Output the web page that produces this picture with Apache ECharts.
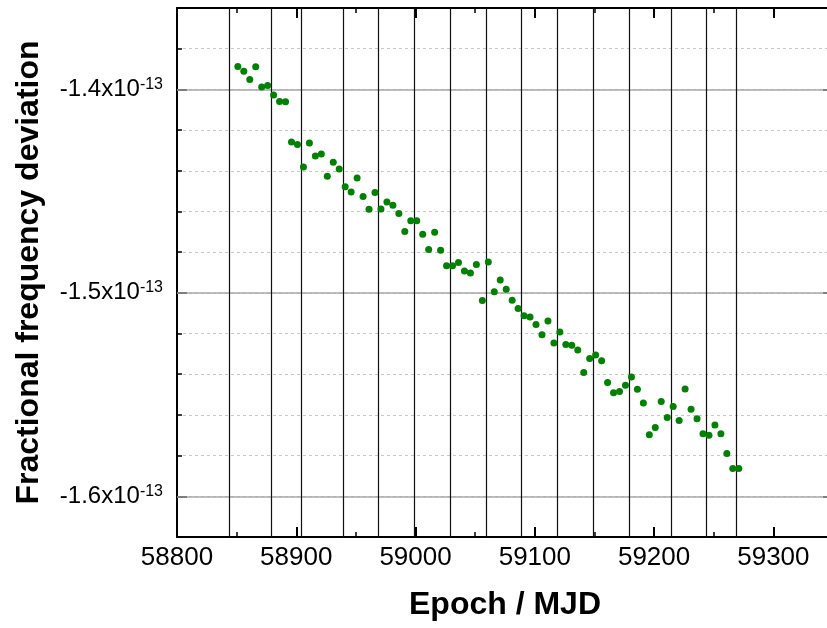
<!DOCTYPE html>
<html>
<head>
<meta charset="utf-8">
<script src="https://cdn.jsdelivr.net/npm/echarts@6/dist/echarts.min.js"></script>
<style>
  html, body { margin: 0; padding: 0; background: #fff; }
  #chart { width: 827px; height: 628px; }
</style>
</head>
<body>
<div id="chart"></div>
<script>
// Epochs (MJD) of the 5-day comparison points
const epochs = [
  58851, 58856, 58861, 58866, 58871, 58876, 58881, 58886, 58891, 58896,
  58901, 58906, 58911, 58916, 58921, 58926, 58931, 58936, 58941, 58946,
  58951, 58956, 58961, 58966, 58971, 58976, 58981, 58986, 58991, 58996,
  59001, 59006, 59011, 59016, 59021, 59026, 59031, 59036, 59041, 59046,
  59051, 59056, 59061, 59066, 59071, 59076, 59081, 59086, 59091, 59096,
  59101, 59106, 59111, 59116, 59121, 59126, 59131, 59136, 59141, 59146,
  59151, 59156, 59161, 59166, 59171, 59176, 59181, 59186, 59191, 59196,
  59201, 59206, 59211, 59216, 59221, 59226, 59231, 59236, 59241, 59246,
  59251, 59256, 59261, 59266, 59271
];

// Fractional frequency deviation, in units of 1e-13
const deviation = [
  -1.3888, -1.3911, -1.3952, -1.3889, -1.3988, -1.3981, -1.4027, -1.4060, -1.4061, -1.4258,
  -1.4271, -1.4381, -1.4263, -1.4327, -1.4317, -1.4427, -1.4358, -1.4391, -1.4478, -1.4504,
  -1.4435, -1.4527, -1.4589, -1.4507, -1.4588, -1.4553, -1.4570, -1.4610, -1.4699, -1.4646,
  -1.4646, -1.4712, -1.4787, -1.4702, -1.4791, -1.4867, -1.4867, -1.4851, -1.4893, -1.4902,
  -1.4861, -1.5038, -1.4848, -1.4995, -1.4937, -1.4982, -1.5036, -1.5077, -1.5113, -1.5119,
  -1.5156, -1.5206, -1.5138, -1.5246, -1.5192, -1.5254, -1.5257, -1.5281, -1.5392, -1.5323,
  -1.5305, -1.5334, -1.5441, -1.5491, -1.5485, -1.5454, -1.5413, -1.5474, -1.5541, -1.5698,
  -1.5662, -1.5534, -1.5613, -1.5559, -1.5628, -1.5472, -1.5572, -1.5619, -1.5692, -1.5700,
  -1.5650, -1.5692, -1.5790, -1.5863, -1.5863
];

// Period boundaries (MJD) marked by vertical lines
const periodBounds = [58844, 58879, 58904, 58939, 58969, 58999, 59029, 59059,
                      59089, 59119, 59149, 59179, 59214, 59244, 59269];

// Labelled y ticks (units of 1e-13)
const yMajorTicks = [-1.6, -1.5, -1.4];

const X_MIN = 58800, X_MAX = 59350;
const Y_MIN = -1.62, Y_MAX = -1.36;
const FONT = '"Liberation Sans", Arial, sans-serif';

const chart = echarts.init(document.getElementById('chart'), null, { renderer: 'canvas' });

const baseX = {
  type: 'value', min: X_MIN, max: X_MAX,
  splitLine: { show: false },
  axisLabel: { show: false }
};
const baseY = {
  type: 'value', min: Y_MIN, max: Y_MAX,
  splitLine: { show: false },
  axisLabel: { show: false }
};

const points = epochs.map((e, i) => [e, deviation[i]]);

chart.setOption({
  animation: false,
  backgroundColor: '#ffffff',
  grid: { left: 177, top: 8, right: -6, bottom: 91, containLabel: false, outerBoundsMode: 'none' },
  xAxis: [
    Object.assign({}, baseX, {
      position: 'bottom', interval: 100,
      axisLine: { show: true, onZero: false, lineStyle: { color: '#000', width: 2 } },
      axisTick: { show: true, inside: true, length: 10, lineStyle: { color: '#000', width: 2 } },
      axisLabel: {
        show: true, showMaxLabel: false, margin: 8,
        color: '#000', fontFamily: FONT, fontSize: 26,
        formatter: v => String(v)
      },
      name: 'Epoch / MJD', nameLocation: 'middle', nameGap: 52,
      nameTextStyle: { color: '#000', fontFamily: FONT, fontSize: 32, fontWeight: 'bold' }
    }),
    Object.assign({}, baseX, {
      position: 'bottom', interval: 50,
      axisLine: { show: false, onZero: false },
      axisTick: { show: true, inside: true, length: 5, lineStyle: { color: '#000', width: 1.5 } }
    }),
    Object.assign({}, baseX, {
      position: 'top', interval: 100,
      axisLine: { show: true, onZero: false, lineStyle: { color: '#000', width: 2 } },
      axisTick: { show: true, inside: true, length: 10, lineStyle: { color: '#000', width: 2 } }
    }),
    Object.assign({}, baseX, {
      position: 'top', interval: 50,
      axisLine: { show: false, onZero: false },
      axisTick: { show: true, inside: true, length: 5, lineStyle: { color: '#000', width: 1.5 } }
    })
  ],
  yAxis: [
    Object.assign({}, baseY, {
      position: 'left', interval: 0.02,
      axisLine: { show: true, onZero: false, lineStyle: { color: '#000', width: 2 } },
      axisTick: { show: true, inside: true, length: 5, lineStyle: { color: '#000', width: 1.5 } },
      splitLine: { show: true, lineStyle: { color: '#c8c8c8', width: 1, type: [3, 3] } },
      axisLabel: {
        show: true, margin: 14, customValues: yMajorTicks,
        color: '#000', fontFamily: FONT,
        formatter: v => '{b|' + v.toFixed(1) + 'x10}{s|-13}',
        rich: {
          b: { fontFamily: FONT, fontSize: 24, color: '#000' },
          s: { fontFamily: FONT, fontSize: 16, color: '#000', verticalAlign: 'top', padding: [0, 0, 10, 0] }
        }
      },
      name: 'Fractional frequency deviation', nameLocation: 'middle', nameGap: 132,
      nameTextStyle: { color: '#000', fontFamily: FONT, fontSize: 32, fontWeight: 'bold' }
    }),
    Object.assign({}, baseY, {
      position: 'left',
      axisLine: { show: false, onZero: false },
      axisTick: { show: true, inside: true, length: 10, customValues: yMajorTicks,
                  lineStyle: { color: '#000', width: 2 } }
    }),
    Object.assign({}, baseY, {
      position: 'right', interval: 0.02,
      axisLine: { show: true, onZero: false, lineStyle: { color: '#000', width: 2 } },
      axisTick: { show: true, inside: true, length: 5, lineStyle: { color: '#000', width: 1.5 } }
    }),
    Object.assign({}, baseY, {
      position: 'right',
      axisLine: { show: false, onZero: false },
      axisTick: { show: true, inside: true, length: 10, customValues: yMajorTicks,
                  lineStyle: { color: '#000', width: 2 } }
    })
  ],
  series: [
    {
      // solid horizontal grid at labelled ticks
      type: 'scatter', data: [], z: 1, silent: true,
      markLine: {
        silent: true, symbol: 'none', label: { show: false },
        lineStyle: { color: '#a8a8a8', width: 1.5, type: 'solid' },
        data: yMajorTicks.map(v => ({ yAxis: v }))
      }
    },
    {
      // vertical period boundaries
      type: 'scatter', data: [], z: 2, silent: true,
      markLine: {
        silent: true, symbol: 'none', label: { show: false },
        lineStyle: { color: '#111', width: 1.2, type: 'solid' },
        data: periodBounds.map(v => ({ xAxis: v }))
      }
    },
    {
      name: 'deviation', type: 'scatter', z: 5,
      symbol: 'circle', symbolSize: 7,
      itemStyle: { color: '#008000', opacity: 1 },
      data: points
    }
  ]
});
</script>
</body>
</html>
